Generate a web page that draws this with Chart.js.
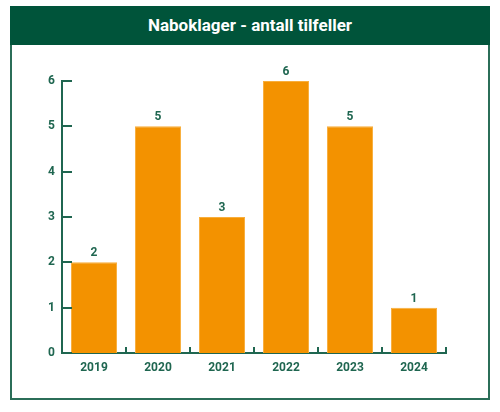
<!DOCTYPE html>
<html>
<head>
<meta charset="utf-8">
<script src="https://cdn.jsdelivr.net/npm/chart.js@4"></script>
<style>
  html, body { margin: 0; padding: 0; background: #fff; }
  #wrap { position: relative; width: 500px; height: 412px; }
  #frame {
    position: absolute; left: 10px; top: 6px; width: 476px; height: 390px;
    border: 2px solid #2b6e58;
  }
  #title {
    position: absolute; left: 10px; top: 6px; width: 480px; height: 39px;
    background: #00543a; color: #fff; text-align: center;
    font: 700 17px Roboto, sans-serif; line-height: 39px;
  }
  canvas { position: absolute; left: 0; top: 0; }
</style>
</head>
<body>
<div id="wrap">
  <div id="frame"></div>
  <div id="title">Naboklager - antall tilfeller</div>
  <canvas id="chart" width="500" height="412"></canvas>
</div>
<script>
const years = ['2019', '2020', '2021', '2022', '2023', '2024'];
const cases = [2, 5, 3, 6, 5, 1];
const yTicks = [0, 1, 2, 3, 4, 5, 6];

const green = '#1f6650';
const labelFont = { family: 'Roboto, sans-serif', size: 12, weight: '700' };

// little tick marks inside the axes + value labels above the bars
const marksPlugin = {
    id: 'marks',
    afterDraw(chart) {
        const ctx = chart.ctx;
        const x = chart.scales.x;
        const y = chart.scales.y;
        const area = chart.chartArea;
        ctx.save();
        ctx.strokeStyle = green;
        ctx.lineWidth = 2;
        yTicks.forEach(v => {
            const py = Math.round(y.getPixelForValue(v));
            ctx.beginPath();
            ctx.moveTo(area.left, py);
            ctx.lineTo(area.left + 10, py);
            ctx.stroke();
        });
        for (let i = 1; i <= years.length; i++) {
            const px = Math.round((x.getPixelForValue(i - 1) + (i < years.length ? x.getPixelForValue(i) : x.getPixelForValue(i - 1) + (x.getPixelForValue(1) - x.getPixelForValue(0)))) / 2);
            ctx.beginPath();
            ctx.moveTo(px, area.bottom);
            ctx.lineTo(px, area.bottom - 6);
            ctx.stroke();
        }
        ctx.fillStyle = green;
        ctx.font = '700 12px Roboto, sans-serif';
        ctx.textAlign = 'center';
        ctx.textBaseline = 'bottom';
        chart.getDatasetMeta(0).data.forEach((bar, i) => {
            ctx.fillText(cases[i], bar.x, bar.y - 3);
        });
        ctx.restore();
    }
};

new Chart(document.getElementById('chart'), {
    type: 'bar',
    data: {
        labels: years,
        datasets: [{
            data: cases,
            backgroundColor: '#f39200',
            borderColor: '#f8ae3c',
            borderWidth: 1,
            categoryPercentage: 0.72,
            barPercentage: 1
        }]
    },
    options: {
        responsive: false,
        animation: false,
        layout: { padding: { top: 81, right: 54, left: 0, bottom: 0 } },
        plugins: { legend: { display: false }, tooltip: { enabled: false } },
        scales: {
            x: {
                grid: { display: false, drawTicks: false },
                border: { display: true, color: green, width: 2 },
                ticks: { color: green, font: labelFont, padding: 8 },
                afterFit(s) { s.height = 59; }
            },
            y: {
                min: 0, max: 6,
                grid: { display: false, drawTicks: false },
                border: { display: true, color: green, width: 2 },
                ticks: { stepSize: 1, color: green, font: labelFont, padding: 7 },
                afterFit(s) { s.width = 62; }
            }
        }
    },
    plugins: [marksPlugin]
});
</script>
</body>
</html>
